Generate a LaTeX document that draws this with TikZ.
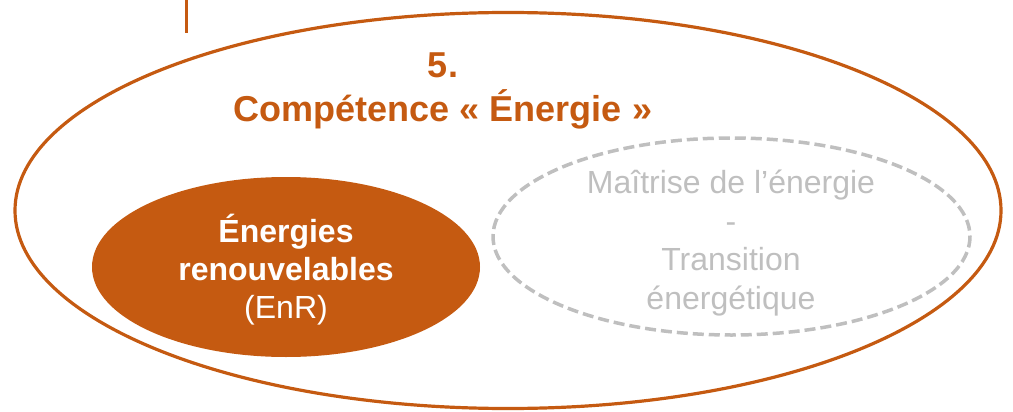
\documentclass[tikz,border=0pt]{standalone}
\usepackage{fontspec}
\setmainfont{Liberation Sans}
\definecolor{energie}{HTML}{C55A11}
\definecolor{pale}{HTML}{BFBFBF}
\begin{document}
\begin{tikzpicture}[x=0.5pt, y=-0.5pt,
	trait/.style={draw=energie, line width=1.6pt},
	titre/.style={text=energie, align=center, font=\bfseries\fontsize{18}{22}\selectfont},
	enr/.style={text=white, align=center, font=\fontsize{16}{19}\selectfont},
	mde/.style={text=pale, align=center, font=\fontsize{16}{19.2}\selectfont}]
	\useasboundingbox (0, 0) rectangle (1013, 412);
	\draw[trait] (186.5, 0) -- (186.5, 33);
	\draw[trait] (508, 210.5) ellipse [x radius=493, y radius=198];
	\fill[energie] (286, 267) ellipse [x radius=194, y radius=90];
	\draw[pale, line width=1.75pt, dash pattern=on 5.5pt off 2.5pt] (731.5, 236.5) ellipse [x radius=238.5, y radius=98.5];
	\node[titre] (competence) at (443, 91) {5.\\Compétence « Énergie »};
	\node[enr] (enr) at (286, 270) {\textbf{Énergies}\\\textbf{renouvelables}\\(EnR)};
	\node[mde] (mde) at (731, 243) {Maîtrise de l’énergie\\-\\Transition\\énergétique};
\end{tikzpicture}
\end{document}
